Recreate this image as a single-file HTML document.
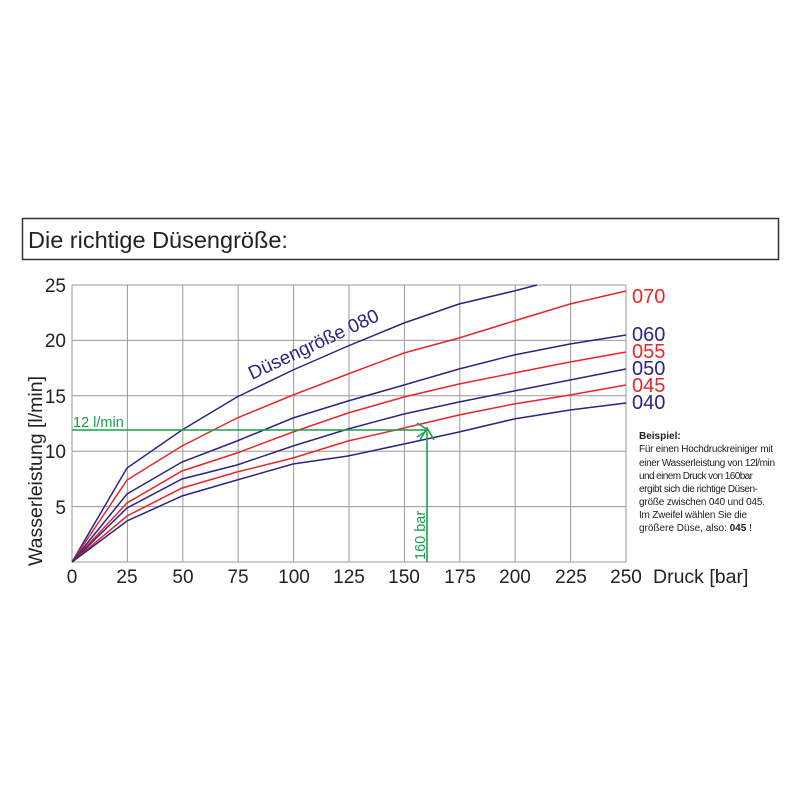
<!DOCTYPE html>
<html><head><meta charset="utf-8"><style>
body{margin:0;background:#fff;}
</style></head><body>
<svg width="800" height="800" xmlns="http://www.w3.org/2000/svg" font-family="Liberation Sans, Arial, sans-serif">
<rect width="800" height="800" fill="#fff"/>
<rect x="22.5" y="218.5" width="756" height="41" fill="#fff" stroke="#333" stroke-width="1.5"/>
<text x="28" y="248" font-size="23.5" fill="#222">Die richtige Düsengröße:</text>
<g stroke="#999" stroke-width="1">
<line x1="72" y1="285" x2="626" y2="285"/><line x1="72" y1="340.4" x2="626" y2="340.4"/><line x1="72" y1="395.8" x2="626" y2="395.8"/><line x1="72" y1="451.2" x2="626" y2="451.2"/><line x1="72" y1="506.6" x2="626" y2="506.6"/><line x1="72" y1="562" x2="626" y2="562"/>
<line x1="72" y1="285" x2="72" y2="562"/><line x1="127.4" y1="285" x2="127.4" y2="562"/><line x1="182.8" y1="285" x2="182.8" y2="562"/><line x1="238.2" y1="285" x2="238.2" y2="562"/><line x1="293.6" y1="285" x2="293.6" y2="562"/><line x1="349" y1="285" x2="349" y2="562"/><line x1="404.4" y1="285" x2="404.4" y2="562"/><line x1="459.8" y1="285" x2="459.8" y2="562"/><line x1="515.2" y1="285" x2="515.2" y2="562"/><line x1="570.6" y1="285" x2="570.6" y2="562"/><line x1="626" y1="285" x2="626" y2="562"/>
</g>
<g font-size="19" fill="#222" text-anchor="end">
<text x="66" y="292">25</text><text x="66" y="347">20</text><text x="66" y="403">15</text><text x="66" y="458">10</text><text x="66" y="514">5</text>
</g>
<g font-size="19" fill="#222" text-anchor="middle">
<text x="72" y="583">0</text><text x="127" y="583">25</text><text x="183" y="583">50</text><text x="238" y="583">75</text><text x="294" y="583">100</text><text x="349" y="583">125</text><text x="404" y="583">150</text><text x="460" y="583">175</text><text x="515" y="583">200</text><text x="571" y="583">225</text><text x="626" y="583">250</text>
</g>
<text x="653" y="583" font-size="19.5" fill="#222">Druck [bar]</text>
<text transform="translate(42,566) rotate(-90)" font-size="19.5" fill="#222">Wasserleistung [l/min]</text>
<g fill="none" stroke-width="1.5">
<polyline stroke="#2a2680" points="72,562 127,468 182,430 237,397 293,370 348,346 404,323 459,304 514,291 537,285"/>
<polyline stroke="#e8262a" points="72,562 127,480 182,446 237,418 293,395 348,374 404,353 459,338 514,321 570,304 626,291"/>
<polyline stroke="#2a2680" points="72,562 127,494 182,462 237,441 293,418 348,401 404,385 459,369 514,355 570,344 626,335"/>
<polyline stroke="#e8262a" points="72,562 127,503 182,471 237,453 293,432 348,413 404,397 459,384 514,373 570,362 626,352"/>
<polyline stroke="#2a2680" points="72,562 127,508 182,479 237,465 293,446 348,429 404,414 459,402 514,391 570,380 626,369"/>
<polyline stroke="#e8262a" points="72,562 127,516 182,488 237,472 293,458 348,441 404,428 459,415 514,404 570,395 626,385"/>
<polyline stroke="#2a2680" points="72,562 127,521 182,496 237,480 293,464 348,456 404,444 459,432 514,419 570,410 626,403"/>
</g>
<text transform="translate(252,380) rotate(-25)" font-size="19" fill="#2a2680">Düsengröße 080</text>
<g font-size="20">
<text x="632" y="303" fill="#e8262a">070</text>
<text x="632" y="341" fill="#2a2680">060</text>
<text x="632" y="358" fill="#e8262a">055</text>
<text x="632" y="375" fill="#2a2680">050</text>
<text x="632" y="392" fill="#e8262a">045</text>
<text x="632" y="409" fill="#2a2680">040</text>
</g>
<g stroke="#1aa04a" stroke-width="1.6" fill="none">
<line x1="72" y1="430" x2="427" y2="430"/>
<line x1="427" y1="562" x2="427" y2="432"/>
<polyline points="417,423 428,430 417,437"/>
<polyline points="420,440 427,428 434,440"/>
</g>
<text x="73" y="427" font-size="14.5" fill="#1aa04a">12 l/min</text>
<text transform="translate(425,560) rotate(-90)" font-size="14.5" fill="#1aa04a">160 bar</text>
<g font-size="10" fill="#222">
<text x="639" y="439" font-weight="bold">Beispiel:</text>
<text x="639" y="452" textLength="134">Für einen Hochdruckreiniger mit</text>
<text x="639" y="466" textLength="136">einer Wasserleistung von 12l/min</text>
<text x="639" y="479" textLength="114">und einem Druck von 160bar</text>
<text x="639" y="492" textLength="119">ergibt sich die richtige Düsen-</text>
<text x="639" y="505" textLength="126">größe zwischen 040 und 045.</text>
<text x="639" y="518" textLength="108">Im Zweifel wählen Sie die</text>
<text x="639" y="531">größere Düse, also:  <tspan font-weight="bold">045</tspan> !</text>
</g>
</svg>
</body></html>
